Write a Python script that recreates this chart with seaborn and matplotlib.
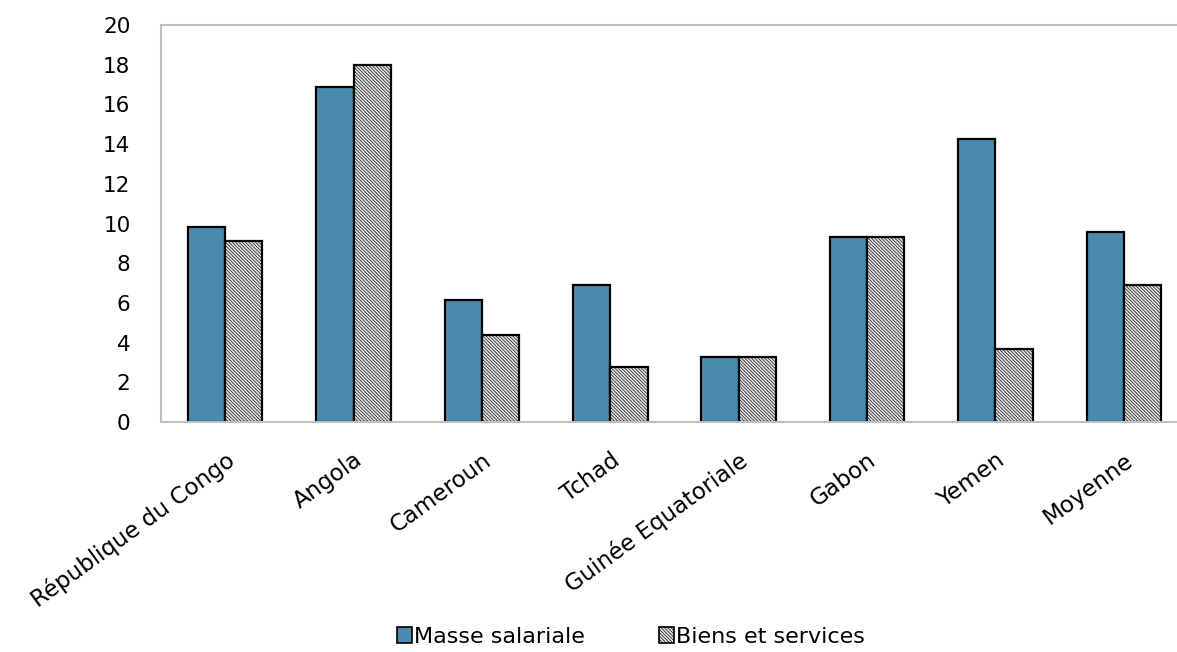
import matplotlib
matplotlib.use("Agg")
import matplotlib.pyplot as plt
import seaborn as sns
import pandas as pd
from matplotlib.patches import Patch

categories = ["République du Congo", "Angola", "Cameroun", "Tchad",
              "Guinée Equatoriale", "Gabon", "Yemen", "Moyenne"]
masse_salariale = [9.8, 16.9, 6.15, 6.9, 3.25, 9.3, 14.25, 9.55]
biens_services = [9.1, 18.0, 4.4, 2.75, 3.25, 9.3, 3.7, 6.9]
series_names = ["Masse salariale", "Biens et services"]
yticks = [0, 2, 4, 6, 8, 10, 12, 14, 16, 18, 20]

df = pd.DataFrame({
    "cat": categories * 2,
    "serie": [series_names[0]] * len(categories) + [series_names[1]] * len(categories),
    "val": masse_salariale + biens_services,
})

sns.set_style("white")
plt.rcParams["font.family"] = ["DejaVu Sans"]
plt.rcParams["text.color"] = "black"
plt.rcParams["xtick.labelcolor"] = "black"
plt.rcParams["ytick.labelcolor"] = "black"
plt.rcParams["hatch.color"] = "#a0a0a0"
plt.rcParams["hatch.linewidth"] = 0.45

fig = plt.figure(figsize=(11.77, 6.52), dpi=100)
W, H = 1177, 652
ax = fig.add_axes([161 / W, 1 - 422 / H, (1188 - 161) / W, (422 - 25) / H])

blue = "#4A8AAD"
gray = "#e2e2e2"
hatch = "\\" * 10
sns.barplot(data=df, x="cat", y="val", hue="serie", order=categories,
            hue_order=series_names, palette=[blue, gray], width=0.58,
            edgecolor="black", linewidth=1.6, saturation=1, ax=ax, legend=False)

for p in ax.containers[1]:
    p.set_hatch(hatch)
    p.set_facecolor(gray)

ax.set_xlim(-0.5, 7.5)
ax.set_ylim(0, 20)
ax.set_yticks(yticks)
ax.set_yticklabels([str(t) for t in yticks], fontsize=15.5)
ax.set_xlabel("")
ax.set_ylabel("")

ax.set_xticks([i + 0.5 for i in range(len(categories) - 1)], minor=True)
ax.set_xticks(range(len(categories)))
ax.set_xticklabels(categories, rotation=36, ha="right", rotation_mode="anchor", fontsize=16.5)
ax.tick_params(axis="x", which="major", length=0, pad=19)
ax.tick_params(axis="x", which="minor", direction="in", length=5, color="#bfbfbf", width=1.5)
ax.tick_params(axis="y", direction="in", length=10, color="#bfbfbf", width=1.5, pad=22)

for s in ["left", "bottom", "top"]:
    ax.spines[s].set_visible(True)
    ax.spines[s].set_color("#c0c0c0")
    ax.spines[s].set_linewidth(1.5)
ax.spines["right"].set_visible(False)

handles = [Patch(facecolor=blue, edgecolor="black", linewidth=1.2),
           Patch(facecolor=gray, edgecolor="black", linewidth=1.2, hatch=hatch)]
fig.legend(handles, series_names, loc="center", bbox_to_anchor=(0.536, 1 - 637 / H),
           ncol=2, frameon=False, fontsize=16, handlelength=0.7, handleheight=0.7,
           handletextpad=0.1, columnspacing=3.3)

fig.savefig("out.png", dpi=100)
